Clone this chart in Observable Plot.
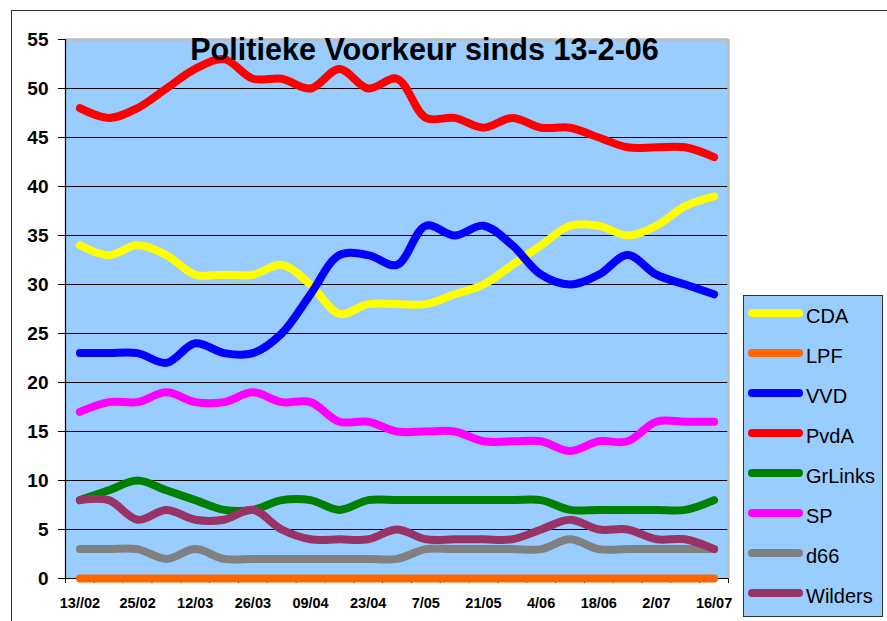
<!DOCTYPE html>
<html>
<head>
<meta charset="utf-8">
<script src="https://cdn.jsdelivr.net/npm/d3@7"></script>
<script src="https://cdn.jsdelivr.net/npm/@observablehq/plot@0.6"></script>
<style>
  html, body { margin: 0; padding: 0; background: #fff; }
  #wrap { position: relative; width: 887px; height: 621px; overflow: hidden; font-family: "Liberation Sans", Arial, sans-serif; }
  #outer { position: absolute; left: 11px; top: 10px; width: 1000px; height: 1000px; border-top: 1.5px solid #333; border-left: 1.5px solid #333; box-sizing: border-box; }
  #chart { position: absolute; left: 0; top: 0; }
  #title { position: absolute; left: 0; width: 849px; top: 34px; text-align: center; font: bold 30.6px "Liberation Sans", Arial, sans-serif; line-height: 30px; color: #000; white-space: nowrap; }
  #legendBox { position: absolute; left: 743px; top: 295px; width: 140px; height: 322px; box-sizing: border-box; border: 1.5px solid #333; background: #99CCFF; }
  .sw { position: absolute; height: 8px; border-radius: 4px; }
  .lt { position: absolute; font: 20px "Liberation Sans", Arial, sans-serif; line-height: 20px; color: #000; white-space: nowrap; }
</style>
</head>
<body>
<div id="wrap">
  <div id="outer"></div>
  <div id="chart"></div>
  <div id="title">Politieke Voorkeur sinds 13-2-06</div>
  <div id="legendBox"></div>
</div>
<script>
// ---- data (seats per poll, weekly) ----
const weeks = [0,1,2,3,4,5,6,7,8,9,10,11,12,13,14,15,16,17,18,19,20,21,22];
const tickWeeks  = [0, 2, 4, 6, 8, 10, 12, 14, 16, 18, 20, 22];
const tickLabels = ["13//02","25/02","12/03","26/03","09/04","23/04","7/05","21/05","4/06","18/06","2/07","16/07"];
const yTicks = [0,5,10,15,20,25,30,35,40,45,50,55];

const parties = ["CDA","LPF","VVD","PvdA","GrLinks","SP","d66","Wilders"];
const partyColors = ["#FFFF00","#FF6600","#0000FF","#FF0000","#008000","#FF00FF","#808080","#993366"];

const cda     = [34,33,34,33,31,31,31,32,30,27,28,28,28,29,30,32,34,36,36,35,36,38,39];
const lpf     = [0,0,0,0,0,0,0,0,0,0,0,0,0,0,0,0,0,0,0,0,0,0,0];
const vvd     = [23,23,23,22,24,23,23,25,29,33,33,32,36,35,36,34,31,30,31,33,31,30,29];
const pvda    = [48,47,48,50,52,53,51,51,50,52,50,51,47,47,46,47,46,46,45,44,44,44,43];
const grlinks = [8,9,10,9,8,7,7,8,8,7,8,8,8,8,8,8,8,7,7,7,7,7,8];
const sp      = [17,18,18,19,18,18,19,18,18,16,16,15,15,15,14,14,14,13,14,14,16,16,16];
const d66     = [3,3,3,2,3,2,2,2,2,2,2,2,3,3,3,3,3,4,3,3,3,3,3];
const wilders = [8,8,6,7,6,6,7,5,4,4,4,5,4,4,4,4,5,6,5,5,4,4,3];

const seriesValues = [cda, lpf, vvd, pvda, grlinks, sp, d66, wilders];

// ---- build table ----
const rows = [];
parties.forEach((p, k) => {
  seriesValues[k].forEach((v, i) => rows.push({party: p, week: weeks[i], value: v}));
});
const tickRows = tickWeeks.map((w, i) => ({week: w, label: tickLabels[i]}));
const xMin = weeks[0] - 0.5, xMax = weeks[weeks.length - 1] + 0.5;
const bandEdges = weeks.map(w => w - 0.5).concat([xMax]);
const grid = yTicks.filter(t => t > 0 && t < 55);

const chart = Plot.plot({
  width: 887,
  height: 621,
  marginLeft: 65,
  marginRight: 159,
  marginTop: 39,
  marginBottom: 43,
  style: {fontFamily: "'Liberation Sans', Arial, sans-serif", fontSize: "19px", fontWeight: "bold", background: "transparent", overflow: "visible"},
  x: {type: "linear", domain: [xMin, xMax], ticks: bandEdges, tickFormat: () => "", tickSize: 5, label: null},
  y: {domain: [0, 55], ticks: yTicks, tickSize: 7, tickPadding: 10, label: null},
  color: {domain: parties, range: partyColors},
  marks: [
    Plot.frame({fill: "#99CCFF", stroke: "none"}),
    Plot.ruleY(grid, {stroke: "#000", strokeWidth: 1}),
    Plot.ruleY([55], {stroke: "#BDBDBD", strokeWidth: 2.5}),
    Plot.ruleX([xMax], {stroke: "#BDBDBD", strokeWidth: 2.5}),
    Plot.ruleX([xMin], {stroke: "#000", strokeWidth: 1.2}),
    Plot.ruleY([0], {stroke: "#000", strokeWidth: 1.2}),
    Plot.line(rows, {x: "week", y: "value", z: "party", stroke: "party", strokeWidth: 8, strokeLinecap: "round", strokeLinejoin: "round", curve: "catmull-rom"}),
    Plot.text(tickRows, {x: "week", y: () => 0, text: "label", dy: 25, fontSize: 14.5, fontWeight: "bold", fill: "#000"})
  ]
});
document.getElementById("chart").appendChild(chart);

// ---- legend ----
const wrap = document.getElementById("wrap");
parties.forEach((p, k) => {
  const cy = 313.3 + k * 40;
  const sw = document.createElement("div");
  sw.className = "sw";
  sw.style.left = "748px";
  sw.style.width = "55px";
  sw.style.top = (cy - 4) + "px";
  sw.style.background = partyColors[k];
  wrap.appendChild(sw);
  const t = document.createElement("div");
  t.className = "lt";
  t.style.left = "806px";
  t.style.top = (cy - 7.5) + "px";
  t.textContent = p;
  wrap.appendChild(t);
});
</script>
</body>
</html>
